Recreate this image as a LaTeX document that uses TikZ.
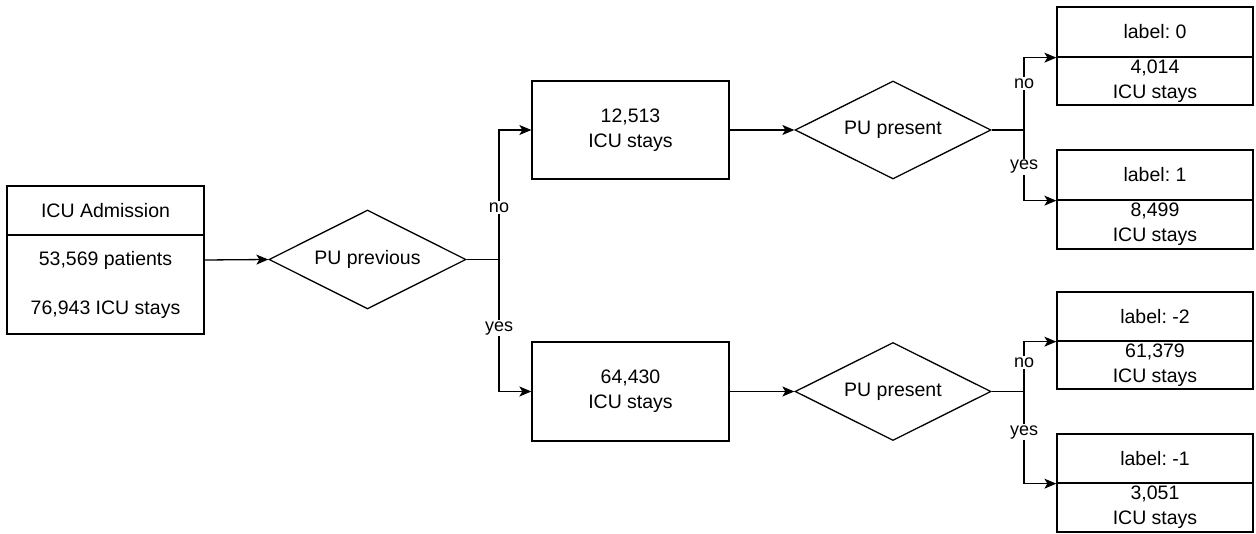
\documentclass[tikz,border=0pt]{standalone}
\usepackage{fontspec}
\setmainfont{Liberation Sans}
\usetikzlibrary{shapes.geometric, calc, arrows.meta}
\frenchspacing

\begin{document}
\begin{tikzpicture}[x=1pt, y=-1pt,
  every node/.style={font=\fontsize{19.5}{25}\selectfont, align=center},
  box/.style={draw, line width=1.3pt, rectangle, inner sep=0pt, minimum width=197pt},
  cond/.style={draw, line width=1.3pt, diamond, shape aspect=2, inner sep=0pt,
    minimum width=197pt, minimum height=99pt},
  arr/.style={line width=1.3pt, -{Stealth[length=12pt, width=10pt, inset=3pt]}},
  lbl/.style={fill=white, inner sep=1.5pt, font=\fontsize{18}{20}\selectfont}]
\useasboundingbox (0,0) rectangle (1256,534);
% Admision
\node[box, minimum height=49pt] (adm) at (105.5,210.5) {ICU Admission};
\node[box, minimum height=99pt] (admcnt) at (105.5,284.5) {53,569 patients\\[24pt]76,943 ICU stays};
\coordinate (admout) at ($(adm.north east)!0.5!(admcnt.south east)$);
% Primera decision
\node[cond] (prev) at (367.5,259.5) {PU previous};
\node[box, minimum height=98pt] (stays1) at (630.5,130) {12,513\\ICU stays};
\node[box, minimum height=99pt] (stays2) at (630.5,391.5) {64,430\\ICU stays};
% Segunda decision
\node[cond, minimum width=196pt, minimum height=98pt] (pres1) at (893,130) {PU present};
\node[cond, minimum width=196pt, minimum height=98pt] (pres2) at (893,391.5) {PU present};
% Etiquetas
\node[box, minimum width=196pt, minimum height=50pt] (lab0) at (1155,32) {label: 0};
\node[box, minimum width=196pt, minimum height=48pt] (cnt0) at (1155,81) {4,014\\ICU stays};
\node[box, minimum width=196pt, minimum height=50pt] (lab1) at (1155,175) {label: 1};
\node[box, minimum width=196pt, minimum height=49pt] (cnt1) at (1155,224.5) {8,499\\ICU stays};
\node[box, minimum width=196pt, minimum height=49pt] (labm2) at (1155,316.5) {label: -2};
\node[box, minimum width=196pt, minimum height=48pt] (cntm2) at (1155,365) {61,379\\ICU stays};
\node[box, minimum width=196pt, minimum height=49pt] (labm1) at (1155,458.5) {label: -1};
\node[box, minimum width=196pt, minimum height=49pt] (cntm1) at (1155,507.5) {3,051\\ICU stays};
% Puntos de bifurcacion
\coordinate (sp1) at (499,259.5);
\coordinate (sp2) at (1024,130);
\coordinate (sp3) at (1024,391.5);
% Flechas
\draw[arr] (admout) -- (prev.west);
\draw[arr] (prev.east) -- (sp1) |- node[lbl, pos=0.2] {no} (stays1.west);
\draw[arr] (sp1) |- node[lbl, pos=0.26] {yes} (stays2.west);
\draw[arr] (stays1.east) -- (pres1.west);
\draw[arr] (stays2.east) -- (pres2.west);
\draw[arr] (pres1.east) -- (sp2) |- node[lbl, pos=0.32] {no} (lab0.south west);
\draw[arr] (sp2) |- node[lbl, pos=0.26] {yes} (lab1.south west);
\draw[arr] (pres2.east) -- (sp3) |- node[lbl, pos=0.29] {no} (labm2.south west);
\draw[arr] (sp3) |- node[lbl, pos=0.22] {yes} (labm1.south west);
\end{tikzpicture}
\end{document}
